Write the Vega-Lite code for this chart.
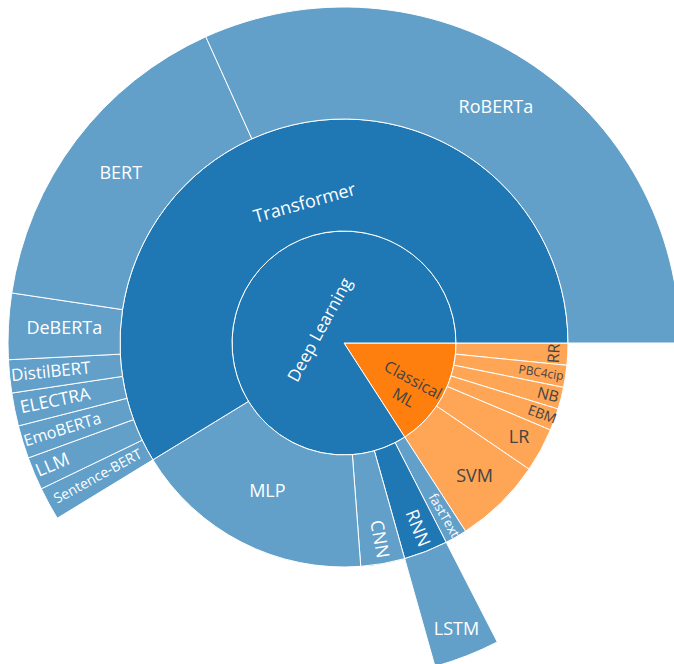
{
  "$schema": "https://vega.github.io/schema/vega-lite/v6.json",
  "width": 656,
  "height": 642,
  "autosize": "none",
  "padding": {"left": 16, "top": 22, "right": 2, "bottom": 0},
  "background": "white",
  "config": {"view": {"stroke": null}},
  "data": {
    "values": [
      {"name": "Classical ML", "parent": "", "branch": "Classical ML", "level": 1, "value": 10, "leaf": false, "ord": 1},
      {"name": "RR", "parent": "Classical ML", "branch": "Classical ML", "level": 2, "value": 1, "leaf": true, "ord": 2},
      {"name": "PBC4cip", "parent": "Classical ML", "branch": "Classical ML", "level": 2, "value": 1, "leaf": true, "ord": 3},
      {"name": "NB", "parent": "Classical ML", "branch": "Classical ML", "level": 2, "value": 1, "leaf": true, "ord": 4},
      {"name": "EBM", "parent": "Classical ML", "branch": "Classical ML", "level": 2, "value": 1, "leaf": true, "ord": 5},
      {"name": "LR", "parent": "Classical ML", "branch": "Classical ML", "level": 2, "value": 2, "leaf": true, "ord": 6},
      {"name": "SVM", "parent": "Classical ML", "branch": "Classical ML", "level": 2, "value": 4, "leaf": true, "ord": 7},
      {"name": "Deep Learning", "parent": "", "branch": "Deep Learning", "level": 1, "value": 53, "leaf": false, "ord": 8},
      {"name": "fastText", "parent": "Deep Learning", "branch": "Deep Learning", "level": 2, "value": 1, "leaf": true, "ord": 9},
      {"name": "RNN", "parent": "Deep Learning", "branch": "Deep Learning", "level": 2, "value": 2, "leaf": false, "ord": 10},
      {"name": "LSTM", "parent": "RNN", "branch": "Deep Learning", "level": 3, "value": 2, "leaf": true, "ord": 11},
      {"name": "CNN", "parent": "Deep Learning", "branch": "Deep Learning", "level": 2, "value": 2, "leaf": true, "ord": 12},
      {"name": "MLP", "parent": "Deep Learning", "branch": "Deep Learning", "level": 2, "value": 11, "leaf": true, "ord": 13},
      {"name": "Transformer", "parent": "Deep Learning", "branch": "Deep Learning", "level": 2, "value": 37, "leaf": false, "ord": 14},
      {"name": "Sentence-BERT", "parent": "Transformer", "branch": "Deep Learning", "level": 3, "value": 1, "leaf": true, "ord": 15},
      {"name": "LLM", "parent": "Transformer", "branch": "Deep Learning", "level": 3, "value": 1, "leaf": true, "ord": 16},
      {"name": "EmoBERTa", "parent": "Transformer", "branch": "Deep Learning", "level": 3, "value": 1, "leaf": true, "ord": 17},
      {"name": "ELECTRA", "parent": "Transformer", "branch": "Deep Learning", "level": 3, "value": 1, "leaf": true, "ord": 18},
      {"name": "DistilBERT", "parent": "Transformer", "branch": "Deep Learning", "level": 3, "value": 1, "leaf": true, "ord": 19},
      {"name": "DeBERTa", "parent": "Transformer", "branch": "Deep Learning", "level": 3, "value": 2, "leaf": true, "ord": 20},
      {"name": "BERT", "parent": "Transformer", "branch": "Deep Learning", "level": 3, "value": 10, "leaf": true, "ord": 21},
      {"name": "RoBERTa", "parent": "Transformer", "branch": "Deep Learning", "level": 3, "value": 20, "leaf": true, "ord": 22}
    ]
  },
  "layer": [
    {
      "encoding": {
        "theta": {"field": "value", "type": "quantitative", "stack": true, "scale": {"type": "linear", "domain": [0, 63], "range": [1.5707963, 7.8539816]}},
        "order": {"field": "ord", "type": "quantitative"},
        "detail": {"field": "name", "type": "nominal"},
        "color": {"field": "branch", "type": "nominal", "scale": {"domain": ["Deep Learning", "Classical ML"], "range": ["#1f77b4", "#ff7f0e"]}, "legend": null}
      },
      "layer": [
        {
          "transform": [{"filter": "datum.level == 1"}],
          "mark": {"type": "arc", "stroke": "white", "strokeWidth": 1},
          "encoding": {
            "radius": {"datum": 1, "type": "quantitative", "scale": {"type": "linear", "domain": [0, 3], "range": [0, 336], "zero": true}},
            "radius2": {"datum": 0},
            "fillOpacity": {"value": 1}
          }
        },
        {
          "transform": [{"filter": "datum.level == 2"}],
          "mark": {"type": "arc", "stroke": "white", "strokeWidth": 1},
          "encoding": {
            "radius": {"datum": 2, "type": "quantitative", "scale": {"type": "linear", "domain": [0, 3], "range": [0, 336], "zero": true}},
            "radius2": {"datum": 1},
            "fillOpacity": {"condition": {"test": "datum.leaf", "value": 0.7}, "value": 1}
          }
        },
        {
          "transform": [{"filter": "datum.level == 3 || (datum.level == 2 && datum.leaf)"}],
          "mark": {"type": "arc", "stroke": "white", "strokeWidth": 1},
          "encoding": {
            "radius": {"datum": 3, "type": "quantitative", "scale": {"type": "linear", "domain": [0, 3], "range": [0, 336], "zero": true}},
            "radius2": {"datum": 2},
            "fillOpacity": {"condition": {"test": "datum.level == 2", "value": 0}, "value": 0.7},
            "strokeOpacity": {"condition": {"test": "datum.level == 2", "value": 0}, "value": 1}
          }
        }
      ]
    },
    {
      "encoding": {
        "theta": {"field": "value", "type": "quantitative", "stack": true, "scale": {"type": "linear", "domain": [0, 63], "range": [1.5707963, 7.8539816]}},
        "order": {"field": "ord", "type": "quantitative"},
        "detail": {"field": "name", "type": "nominal"},
        "color": {"condition": {"test": "datum.branch == 'Classical ML'", "value": "#444444"}, "value": "#ffffff"},
        "angle": {
          "condition": [
            {"test": "datum.name == 'Deep Learning'", "value": 298.57},
            {"test": "datum.name == 'Classical ML'", "value": 28.57},
            {"test": "datum.name == 'Transformer'", "value": 344.29},
            {"test": "datum.name == 'CNN'", "value": 80},
            {"test": "datum.name == 'RNN'", "value": 68.57},
            {"test": "datum.name == 'fastText'", "value": 60},
            {"test": "datum.name == 'PBC4cip'", "value": 8.57},
            {"test": "datum.name == 'NB'", "value": 14.29},
            {"test": "datum.name == 'EBM'", "value": 20},
            {"test": "datum.name == 'RR'", "value": 272.86},
            {"test": "datum.name == 'Sentence-BERT'", "value": 331.43},
            {"test": "datum.name == 'LLM'", "value": 337.14},
            {"test": "datum.name == 'EmoBERTa'", "value": 342.86},
            {"test": "datum.name == 'ELECTRA'", "value": 348.57},
            {"test": "datum.name == 'DistilBERT'", "value": 354.29}
          ],
          "value": 0
        },
        "size": {
          "condition": [
            {"test": "datum.name == 'Deep Learning'", "value": 17},
            {"test": "datum.name == 'Classical ML'", "value": 16},
            {"test": "datum.name == 'fastText'", "value": 13},
            {"test": "datum.name == 'PBC4cip'", "value": 12},
            {"test": "datum.name == 'NB'", "value": 15.5},
            {"test": "datum.name == 'EBM'", "value": 14},
            {"test": "datum.name == 'RR'", "value": 16},
            {"test": "datum.name == 'Sentence-BERT'", "value": 14},
            {"test": "datum.name == 'LLM'", "value": 18},
            {"test": "datum.name == 'EmoBERTa'", "value": 16},
            {"test": "datum.name == 'ELECTRA'", "value": 17.5},
            {"test": "datum.name == 'DistilBERT'", "value": 17}
          ],
          "value": 18
        }
      },
      "layer": [
        {
          "transform": [{"filter": "datum.level == 1"}],
          "mark": {"type": "text", "font": "Open Sans", "align": "center", "baseline": "middle"},
          "encoding": {
            "radius": {"datum": 0.24, "type": "quantitative", "scale": {"type": "linear", "domain": [0, 3], "range": [0, 336], "zero": true}},
            "text": {"condition": {"test": "datum.name == 'Deep Learning'", "field": "name", "type": "nominal"}, "value": ""}
          }
        },
        {
          "transform": [{"filter": "datum.level == 1"}],
          "mark": {"type": "text", "font": "Open Sans", "align": "center", "baseline": "middle", "lineBreak": " ", "lineHeight": 20},
          "encoding": {
            "radius": {"datum": 0.7, "type": "quantitative", "scale": {"type": "linear", "domain": [0, 3], "range": [0, 336], "zero": true}},
            "text": {"condition": {"test": "datum.name == 'Classical ML'", "field": "name", "type": "nominal"}, "value": ""}
          }
        },
        {
          "transform": [{"filter": "datum.level == 2"}],
          "mark": {"type": "text", "font": "Open Sans", "align": "center", "baseline": "middle"},
          "encoding": {
            "radius": {"datum": 1.29, "type": "quantitative", "scale": {"type": "linear", "domain": [0, 3], "range": [0, 336], "zero": true}},
            "text": {"condition": {"test": "datum.name == 'Transformer'", "field": "name", "type": "nominal"}, "value": ""}
          }
        },
        {
          "transform": [{"filter": "datum.level == 2"}],
          "mark": {"type": "text", "font": "Open Sans", "align": "center", "baseline": "middle"},
          "encoding": {
            "radius": {"datum": 1.5, "type": "quantitative", "scale": {"type": "linear", "domain": [0, 3], "range": [0, 336], "zero": true}},
            "text": {"condition": {"test": "datum.name == 'MLP'", "field": "name", "type": "nominal"}, "value": ""}
          }
        },
        {
          "transform": [{"filter": "datum.level == 2"}],
          "mark": {"type": "text", "font": "Open Sans", "align": "center", "baseline": "middle"},
          "encoding": {
            "radius": {"datum": 1.67, "type": "quantitative", "scale": {"type": "linear", "domain": [0, 3], "range": [0, 336], "zero": true}},
            "text": {"condition": {"test": "datum.name == 'SVM'", "field": "name", "type": "nominal"}, "value": ""}
          }
        },
        {
          "transform": [{"filter": "datum.level == 2"}],
          "mark": {"type": "text", "font": "Open Sans", "align": "center", "baseline": "middle"},
          "encoding": {
            "radius": {"datum": 1.78, "type": "quantitative", "scale": {"type": "linear", "domain": [0, 3], "range": [0, 336], "zero": true}},
            "text": {"condition": {"test": "indexof(['CNN', 'RNN', 'fastText', 'LR', 'PBC4cip'], datum.name) >= 0", "field": "name", "type": "nominal"}, "value": ""}
          }
        },
        {
          "transform": [{"filter": "datum.level == 2"}],
          "mark": {"type": "text", "font": "Open Sans", "align": "center", "baseline": "middle"},
          "encoding": {
            "radius": {"datum": 1.88, "type": "quantitative", "scale": {"type": "linear", "domain": [0, 3], "range": [0, 336], "zero": true}},
            "text": {"condition": {"test": "indexof(['EBM', 'NB', 'RR'], datum.name) >= 0", "field": "name", "type": "nominal"}, "value": ""}
          }
        },
        {
          "transform": [{"filter": "datum.level == 3 || (datum.level == 2 && datum.leaf)"}],
          "mark": {"type": "text", "font": "Open Sans", "align": "center", "baseline": "middle"},
          "encoding": {
            "radius": {"datum": 2.5, "type": "quantitative", "scale": {"type": "linear", "domain": [0, 3], "range": [0, 336], "zero": true}},
            "text": {"condition": {"test": "indexof(['RoBERTa', 'BERT', 'DeBERTa', 'Sentence-BERT'], datum.name) >= 0", "field": "name", "type": "nominal"}, "value": ""}
          }
        },
        {
          "transform": [{"filter": "datum.level == 3 || (datum.level == 2 && datum.leaf)"}],
          "mark": {"type": "text", "font": "Open Sans", "align": "center", "baseline": "middle"},
          "encoding": {
            "radius": {"datum": 2.63, "type": "quantitative", "scale": {"type": "linear", "domain": [0, 3], "range": [0, 336], "zero": true}},
            "text": {"condition": {"test": "indexof(['DistilBERT', 'ELECTRA', 'EmoBERTa'], datum.name) >= 0", "field": "name", "type": "nominal"}, "value": ""}
          }
        },
        {
          "transform": [{"filter": "datum.level == 3 || (datum.level == 2 && datum.leaf)"}],
          "mark": {"type": "text", "font": "Open Sans", "align": "center", "baseline": "middle"},
          "encoding": {
            "radius": {"datum": 2.75, "type": "quantitative", "scale": {"type": "linear", "domain": [0, 3], "range": [0, 336], "zero": true}},
            "text": {"condition": {"test": "datum.name == 'LSTM'", "field": "name", "type": "nominal"}, "value": ""}
          }
        },
        {
          "transform": [{"filter": "datum.level == 3 || (datum.level == 2 && datum.leaf)"}],
          "mark": {"type": "text", "font": "Open Sans", "align": "center", "baseline": "middle"},
          "encoding": {
            "radius": {"datum": 2.82, "type": "quantitative", "scale": {"type": "linear", "domain": [0, 3], "range": [0, 336], "zero": true}},
            "text": {"condition": {"test": "datum.name == 'LLM'", "field": "name", "type": "nominal"}, "value": ""}
          }
        }
      ]
    }
  ]
}
